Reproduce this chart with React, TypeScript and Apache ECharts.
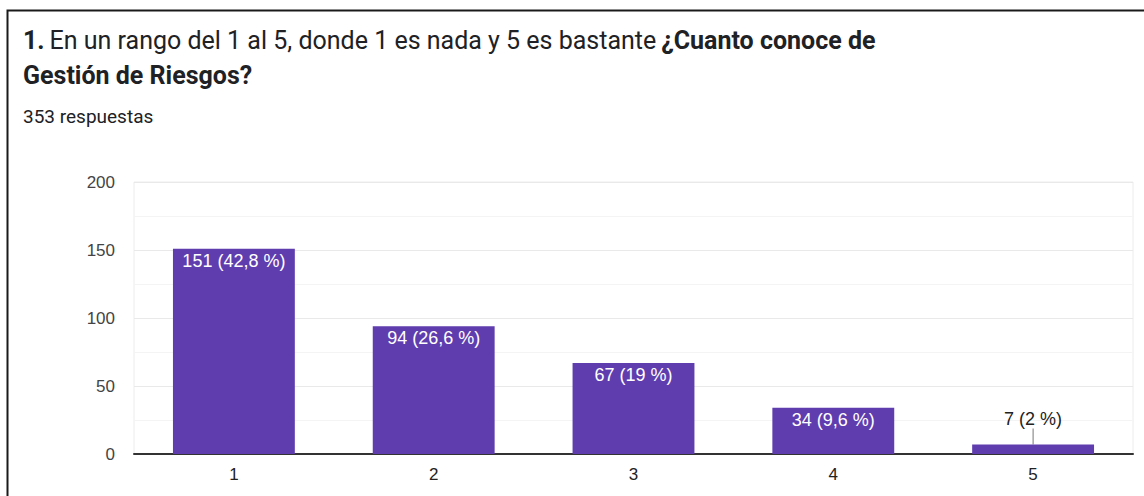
import React, { useEffect, useRef } from "react";
import * as echarts from "echarts";

const categories = ["1", "2", "3", "4", "5"];
const counts = [151, 94, 67, 34, 7];
const totalResponses = 353;
const yTicks = [0, 50, 100, 150, 200];

const fmtPct = (v: number) => {
  const p = Math.round((v / totalResponses) * 1000) / 10;
  const s = Number.isInteger(p) ? String(p) : p.toFixed(1).replace(".", ",");
  return `${v} (${s} %)`;
};

export default function App() {
  const ref = useRef<HTMLDivElement>(null);
  useEffect(() => {
    if (!ref.current) return;
    const chart = echarts.init(ref.current, null, { renderer: "svg" });
    const purple = "#5f3dae";
    chart.setOption({
      animation: false,
      backgroundColor: "#ffffff",
      title: [
        {
          left: 18,
          top: 18,
          text:
            "{b|1.} {n|En un rango del 1 al 5, donde 1 es nada y 5 es bastante} {b|¿Cuanto conoce de}\n{b|Gestión de Riesgos?}",
          textStyle: {
            rich: {
              b: { fontFamily: "Roboto", fontWeight: "bold", fontSize: 25, color: "#202124", lineHeight: 35 },
              n: { fontFamily: "Roboto", fontWeight: "normal", fontSize: 25, color: "#202124", lineHeight: 35 },
            },
          },
        },
        {
          left: 18,
          top: 102,
          text: `${totalResponses} respuestas`,
          textStyle: { fontFamily: "Roboto", fontWeight: "normal", fontSize: 19, color: "#202124" },
        },
      ],
      graphic: [
        {
          type: "polyline",
          shape: { points: [[7.5, 496], [7.5, 10.5], [1144, 10.5]] },
          style: { stroke: "#1a1a1a", lineWidth: 2, fill: "none" },
        },
      ],
      grid: {
        left: 134,
        right: 11,
        top: 182,
        bottom: 42,
        show: true,
        borderColor: "#ececec",
        borderWidth: 1,
      },
      xAxis: {
        type: "category",
        data: categories,
        axisLine: { show: true, lineStyle: { color: "#333", width: 2 } },
        axisTick: { show: false },
        axisLabel: { fontFamily: "Liberation Sans, Arial", fontSize: 17, color: "#222", margin: 12 },
      },
      yAxis: {
        type: "value",
        min: yTicks[0],
        max: yTicks[yTicks.length - 1],
        interval: 50,
        axisLine: { show: false },
        axisTick: { show: false },
        axisLabel: { fontFamily: "Liberation Sans, Arial", fontSize: 17, color: "#444", margin: 19 },
        splitLine: { show: true, lineStyle: { color: "#e9e9e9", width: 1 } },
        minorTick: { show: false, splitNumber: 2 },
        minorSplitLine: { show: true, lineStyle: { color: "#f4f4f4", width: 1 } },
      },
      series: [
        {
          type: "bar",
          barWidth: "61%",
          itemStyle: { color: purple },
          data: counts.map((v, i) =>
            i === counts.length - 1
              ? {
                  value: v,
                  label: {
                    show: true,
                    position: "top",
                    distance: 4,
                    color: "#222",
                    fontFamily: "Liberation Sans, Arial",
                    fontSize: 18,
                    formatter: () => fmtPct(v),
                  },
                  labelLine: { show: true, lineStyle: { color: "#777", width: 1 } },
                }
              : v
          ),
          label: {
            show: true,
            position: "insideTop",
            distance: 3,
            color: "#ffffff",
            fontFamily: "Liberation Sans, Arial",
            fontSize: 18,
            formatter: (p: any) => fmtPct(p.value),
          },
          labelLayout: (p: any) => (p.dataIndex === counts.length - 1 ? { dy: -12 } : {}),
          labelLine: { show: false },
        },
      ],
    });
    return () => chart.dispose();
  }, []);
  return (
    <div
      ref={ref}
      style={{ position: "fixed", left: 0, top: 0, width: 1144, height: 496, background: "#fff" }}
    />
  );
}
